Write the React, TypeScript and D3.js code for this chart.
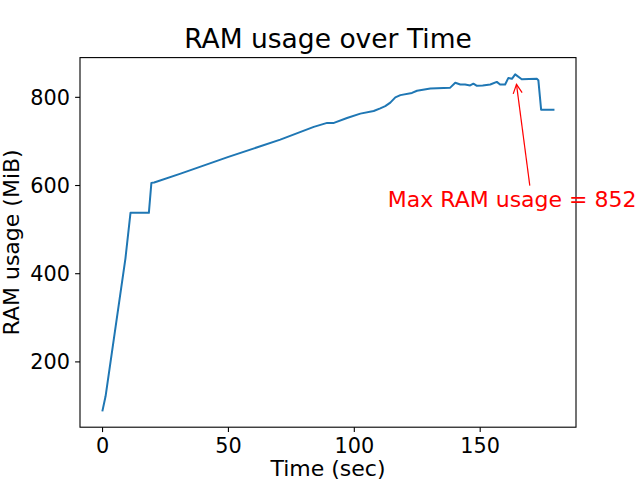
import React from "react";
import * as d3 from "d3";

const times: number[] = [0, 1.2, 9.1, 11.1, 18.4, 19.4, 20.5, 31, 50, 70.6, 83.9, 89.2, 91.9, 97.1, 102.4, 107.7, 110.3, 112.3, 114.3, 116.3, 118.3, 122.9, 124.9, 130.2, 138.1, 140.1, 142.1, 144, 146, 147.3, 148.7, 151, 154, 156.6, 157.9, 159.9, 161.2, 162.6, 163.9, 166.5, 172.5, 173.1, 174.2, 179.1];
const ram: number[] = [90, 122, 435, 538, 538, 606, 607, 627, 665, 704, 733, 742, 742, 753, 763, 769, 775, 780, 788, 800, 805, 810, 815, 820, 822, 833, 829, 829, 827, 831, 826, 827, 829, 835, 829, 829, 844, 842, 852, 841, 842, 839, 772, 772];
const xTicks: number[] = [0, 50, 100, 150];
const yTicks: number[] = [200, 400, 600, 800];
const title = "RAM usage over Time";
const xLabel = "Time (sec)";
const yLabel = "RAM usage (MiB)";

const W = 640, H = 480;
const L = 80, R = 576, T = 57.6, B = 427.2;
const FONT = "DejaVu Sans, sans-serif";

export default function App() {
  const xmin = d3.min(times)!, xmax = d3.max(times)!;
  const ymin = d3.min(ram)!, ymax = d3.max(ram)!;
  const mx = (xmax - xmin) * 0.05, my = (ymax - ymin) * 0.05;
  const x = d3.scaleLinear().domain([xmin - mx, xmax + mx]).range([L, R]);
  const y = d3.scaleLinear().domain([ymin - my, ymax + my]).range([B, T]);
  const pts: [number, number][] = times.map((t, i) => [t, ram[i]]);
  const line = d3.line<[number, number]>().x(d => x(d[0])).y(d => y(d[1]));

  const iMax = d3.maxIndex(ram);
  const maxT = times[iMax], maxV = ram[iMax];
  const tx = x(maxT - 50) - 1.5, ty = y(maxV - 300);
  const tail: [number, number] = [tx + 142, ty - 21];
  const P: [number, number] = [x(maxT), y(maxV)];
  const dx = P[0] - tail[0], dy = P[1] - tail[1];
  const len = Math.hypot(dx, dy);
  const ux = dx / len, uy = dy / len;
  const tip: [number, number] = [P[0] - ux * 10, P[1] - uy * 10];
  const hl = 9, hw = 4.5;
  const h1: [number, number] = [tip[0] - ux * hl - uy * hw, tip[1] - uy * hl + ux * hw];
  const h2: [number, number] = [tip[0] - ux * hl + uy * hw, tip[1] - uy * hl - ux * hw];

  return (
    <svg width={W} height={H} style={{ position: "absolute", left: 0, top: 0, background: "#fff" }} fontFamily={FONT}>
      <rect x={0} y={0} width={W} height={H} fill="#fff" />
      <defs>
        <clipPath id="plot"><rect x={L} y={T} width={R - L} height={B - T} /></clipPath>
      </defs>
      <path d={line(pts)!} fill="none" stroke="#1f77b4" strokeWidth={2} strokeLinejoin="round" strokeLinecap="square" clipPath="url(#plot)" />
      <rect x={L} y={T} width={R - L} height={B - T} fill="none" stroke="#000" strokeWidth={1.1} />
      {xTicks.map(t => (
        <g key={"x" + t}>
          <line x1={x(t)} x2={x(t)} y1={B} y2={B + 4.9} stroke="#000" strokeWidth={1.1} />
          <text x={x(t)} y={453} textAnchor="middle" fontSize={20.8} fill="#000">{t}</text>
        </g>
      ))}
      {yTicks.map(t => (
        <g key={"y" + t}>
          <line x1={L - 4.9} x2={L} y1={y(t)} y2={y(t)} stroke="#000" strokeWidth={1.1} />
          <text x={70} y={y(t) + 7.6} textAnchor="end" fontSize={20.8} fill="#000">{t}</text>
        </g>
      ))}
      <text x={(L + R) / 2} y={48} textAnchor="middle" fontSize={26.5} fill="#000">{title}</text>
      <text x={(L + R) / 2} y={476} textAnchor="middle" fontSize={22} fill="#000">{xLabel}</text>
      <text transform={`translate(19,${(T + B) / 2}) rotate(-90)`} textAnchor="middle" fontSize={22} fill="#000">{yLabel}</text>
      <line x1={tail[0]} y1={tail[1]} x2={tip[0]} y2={tip[1]} stroke="red" strokeWidth={1.2} />
      <polyline points={`${h1[0]},${h1[1]} ${tip[0]},${tip[1]} ${h2[0]},${h2[1]}`} fill="none" stroke="red" strokeWidth={1.2} />
      <text x={tx} y={ty} fontSize={22} fill="red">{`Max RAM usage = ${maxV}`}</text>
    </svg>
  );
}
